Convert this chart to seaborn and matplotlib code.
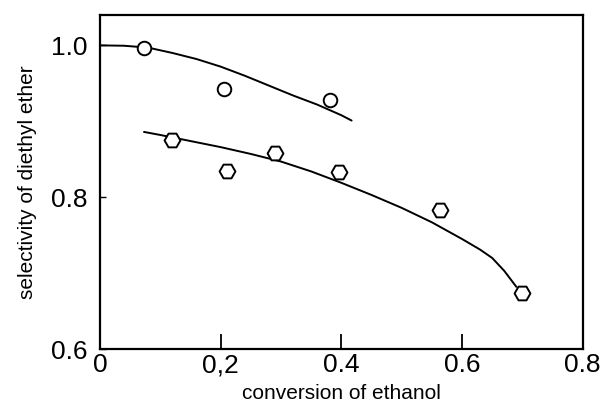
import numpy as np
import pandas as pd
import matplotlib
matplotlib.use('Agg')
import matplotlib.pyplot as plt
import seaborn as sns

sns.set_style('ticks')
plt.rcParams['font.family'] = ['Liberation Sans', 'DejaVu Sans']
plt.rcParams['text.color'] = 'black'
plt.rcParams['axes.labelcolor'] = 'black'
plt.rcParams['xtick.color'] = 'black'
plt.rcParams['ytick.color'] = 'black'

# 측정점 (원 / 육각형)
circ_x = [0.073, 0.205, 0.381]
circ_y = [0.997, 0.942, 0.928]
hex_x = [0.119, 0.211, 0.290, 0.396, 0.563, 0.699]
hex_y = [0.875, 0.834, 0.858, 0.833, 0.783, 0.674]

# 그림에서 읽은 곡선 좌표
up_x = [0.0, 0.04, 0.08, 0.12, 0.16, 0.20, 0.24, 0.28, 0.32, 0.36, 0.40, 0.417]
up_y = [1.0, 0.9995, 0.997, 0.990, 0.982, 0.972, 0.960, 0.947, 0.934, 0.922, 0.908, 0.901]
lo_x = [0.073, 0.10, 0.15, 0.20, 0.25, 0.30, 0.35, 0.40, 0.45, 0.50, 0.55, 0.60, 0.63, 0.65, 0.67, 0.69]
lo_y = [0.886, 0.882, 0.874, 0.866, 0.857, 0.847, 0.834, 0.819, 0.803, 0.786, 0.767, 0.745, 0.731, 0.720, 0.703, 0.682]

xticks = [0, 0.2, 0.4, 0.6, 0.8]
xticklabels = ['0', '0,2', '0.4', '0.6', '0.8']
yticks = [0.6, 0.8, 1.0]
yticklabels = ['0.6', '0.8', '1.0']

fig = plt.figure(figsize=(6.02, 4.05), dpi=100)
ax = fig.add_axes([0.166, 0.138, 0.802, 0.825])

sns.lineplot(x=up_x, y=up_y, sort=False, color='black', lw=1.4, ax=ax)
sns.lineplot(x=lo_x, y=lo_y, sort=False, color='black', lw=1.4, ax=ax)
sns.scatterplot(x=circ_x, y=circ_y, marker='o', s=95, facecolor='white',
                edgecolor='black', linewidth=1.4, ax=ax, zorder=3)
sns.scatterplot(x=hex_x, y=hex_y, marker='H', s=130, facecolor='white',
                edgecolor='black', linewidth=1.4, ax=ax, zorder=3)

ax.set_xlim(0, 0.8)
ax.set_ylim(0.6, 1.04)
ax.set_xticks(xticks)
ax.set_xticklabels(xticklabels)
ax.set_yticks(yticks)
ax.set_yticklabels(yticklabels)
ax.tick_params(axis='x', direction='in', length=11, width=1.3, labelsize=19, pad=3)
ax.tick_params(axis='y', direction='in', length=4, width=1.0, labelsize=19, pad=9)
for sp in ax.spines.values():
    sp.set_visible(True)
    sp.set_linewidth(1.6)
    sp.set_color('black')

ax.set_xlabel('conversion of ethanol', fontsize=15, labelpad=5)
ax.set_ylabel('selectivity of diethyl ether', fontsize=15, labelpad=10)

fig.savefig('out.png', dpi=100)
